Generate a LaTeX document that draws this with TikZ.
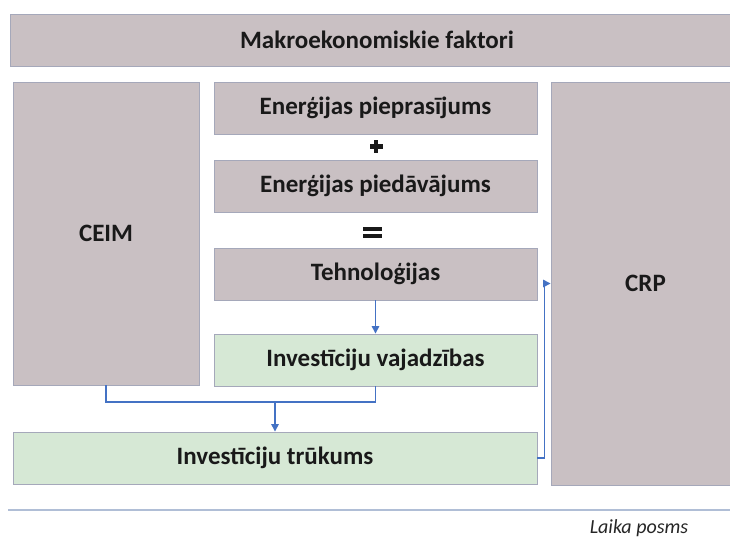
\documentclass[tikz,border=0pt]{standalone}
\usepackage{fontspec}
\setmainfont{Carlito}
\usetikzlibrary{arrows.meta}
\definecolor{boxgray}{RGB}{201,192,195}
\definecolor{boxgreen}{RGB}{214,232,213}
\definecolor{boxline}{RGB}{165,168,186}
\definecolor{conblue}{RGB}{68,114,196}
\definecolor{axisline}{RGB}{176,190,214}
\tikzset{
  base/.style={draw=boxline, line width=0.9pt, rectangle, inner sep=0pt,
    font=\fontsize{25}{29}\selectfont\bfseries, text=black!90},
  graybox/.style={base, fill=boxgray},
  greenbox/.style={base, fill=boxgreen},
  conn/.style={draw=conblue, line width=1.3pt},
  arr/.style={conn, -{Triangle[length=7.5pt,width=7.5pt]}},
}
\begin{document}
\begin{tikzpicture}[x=1pt,y=-1pt]
\useasboundingbox (0,0) rectangle (730,539);
\clip (0,0) rectangle (730,539);
\fill[white] (0,0) rectangle (730,539);

\node[graybox, minimum width=734pt, minimum height=52pt] (makro) at (377,40) {Makroekonomiskie faktori};
\node[graybox, minimum width=186pt, minimum height=303pt] (ceim) at (106,233.5) {CEIM};
\node[graybox, minimum width=323pt, minimum height=52pt] (piepr) at (375.5,108) {Enerģijas pieprasījums};
\node[graybox, minimum width=323pt, minimum height=52pt] (pied) at (375.5,186) {Enerģijas piedāvājums};
\node[graybox, minimum width=323pt, minimum height=52pt] (tehn) at (375.5,274) {Tehnoloģijas};
\node[greenbox, minimum width=323pt, minimum height=52pt] (vajadz) at (375.5,360) {Investīciju vajadzības};
\node[greenbox, minimum width=524pt, minimum height=52pt] (trukums) at (275,458) {Investīciju trūkums};
\node[graybox, minimum width=189pt, minimum height=403pt] (crp) at (645.5,283.5) {CRP};

% plus sign
\fill[black!90] (369.5,144) rectangle (382.5,148.5);
\fill[black!90] (373.8,140) rectangle (378.2,152.5);
% equals sign
\fill[black!90] (363,226.5) rectangle (382,231);
\fill[black!90] (363,233.5) rectangle (382,238);

% connectors
\draw[arr] (tehn.south) -- (vajadz.north);
\coordinate (junc) at (trukums.north |- 0,402);
\draw[conn] (ceim.south) |- (junc) -| (vajadz.south);
\draw[arr] (junc) -- (trukums.north);
\draw[arr] (trukums.east) -- ++(7,0) |- (crp.west);

% time axis
\coordinate (axL) at (8,510);
\coordinate (axR) at (730,510);
\draw[axisline, line width=1.6pt] (axL) -- (axR);
\node[font=\fontsize{20}{24}\selectfont\itshape, text=black!85] (laika) at (639,528) {Laika posms};
\end{tikzpicture}
\end{document}
